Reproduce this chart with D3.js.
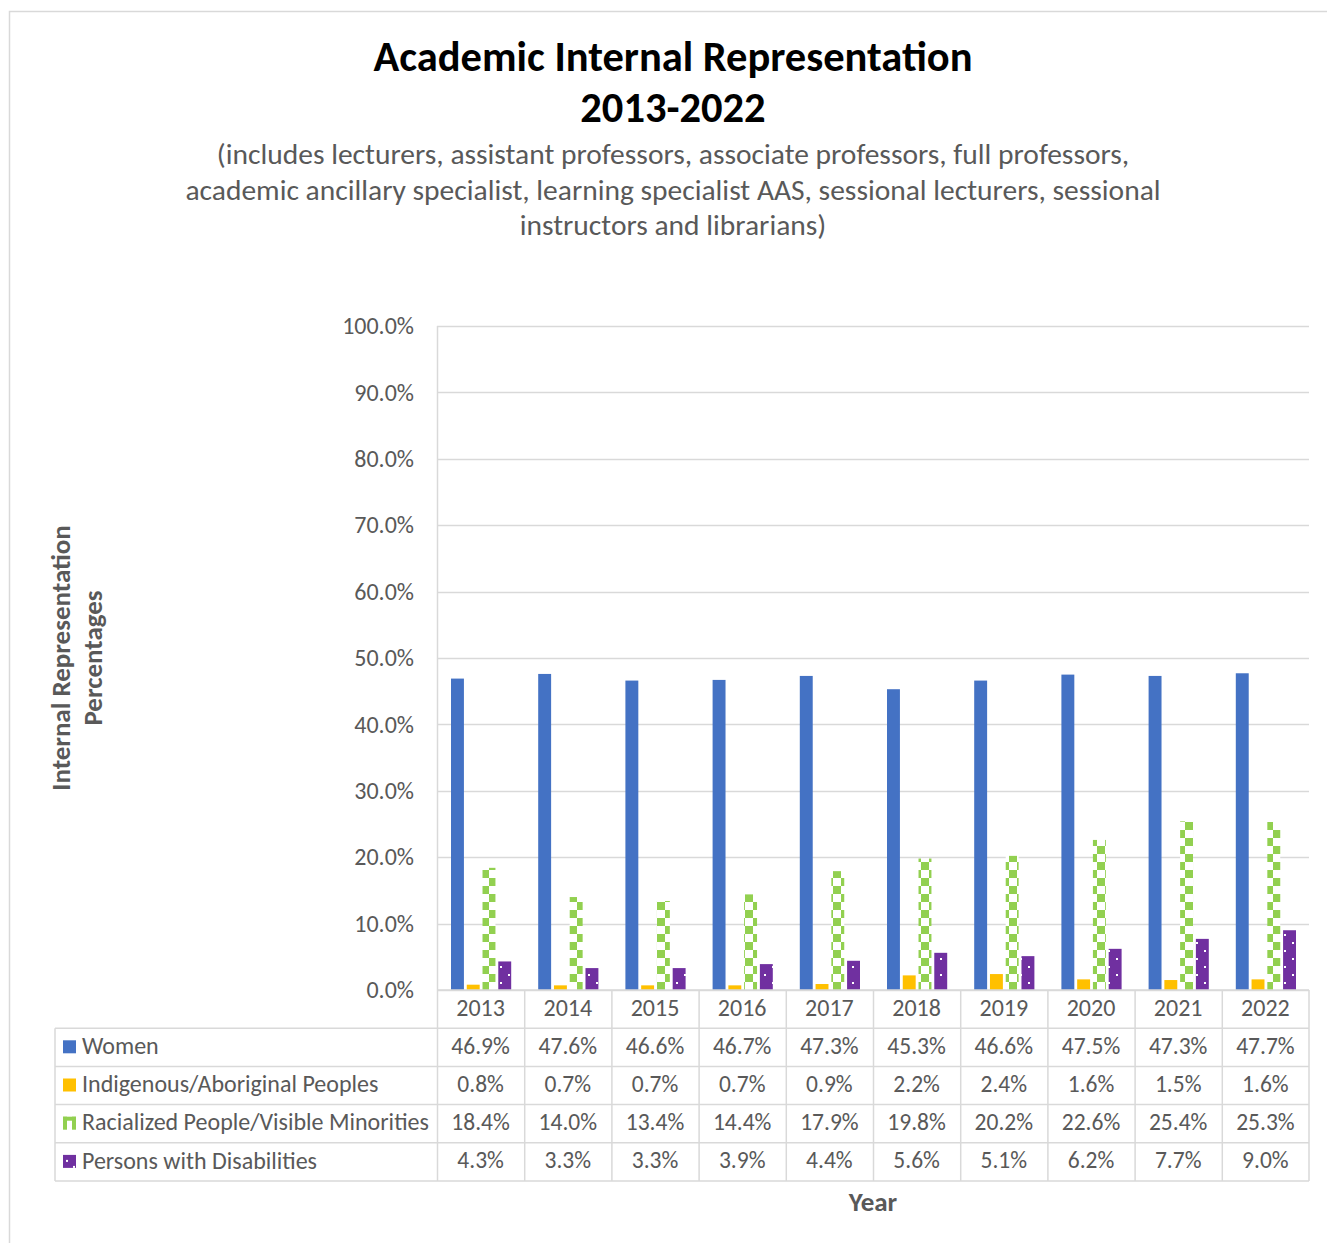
<!DOCTYPE html>
<html><head><meta charset="utf-8">
<script src="https://cdn.jsdelivr.net/npm/d3@7"></script>
<style>
html,body{margin:0;padding:0;background:#fff;}
svg{display:block;font-family:Carlito,Lato,"Open Sans",sans-serif;}
</style></head>
<body>
<svg id="chart" width="1327" height="1243"></svg>
<script>
const years = ["2013","2014","2015","2016","2017","2018","2019","2020","2021","2022"];
const seriesNames = ["Women","Indigenous/Aboriginal Peoples","Racialized People/Visible Minorities","Persons with Disabilities"];
const women = [46.9,47.6,46.6,46.7,47.3,45.3,46.6,47.5,47.3,47.7];
const indigenous = [0.8,0.7,0.7,0.7,0.9,2.2,2.4,1.6,1.5,1.6];
const racialized = [18.4,14.0,13.4,14.4,17.9,19.8,20.2,22.6,25.4,25.3];
const disabilities = [4.3,3.3,3.3,3.9,4.4,5.6,5.1,6.2,7.7,9.0];
const yTicks = [0,10,20,30,40,50,60,70,80,90,100];
const titleLines = ["Academic Internal Representation","2013-2022"];
const subtitleLines = ["(includes lecturers, assistant professors, associate professors, full professors,",
  "academic ancillary specialist, learning specialist AAS, sessional lecturers, sessional",
  "instructors and librarians)"];
const yTitleLines = ["Internal Representation","Percentages"];
const xTitle = "Year";

(function(){
const allSeries = [women, indigenous, racialized, disabilities];
const fills = ["#4472C4","#FFC000","url(#checker)","url(#dots)"];

const svg = d3.select("#chart");
const defs = svg.append("defs");
const pc = defs.append("pattern").attr("id","checker").attr("patternUnits","userSpaceOnUse")
  .attr("width",16).attr("height",16).attr("x",1).attr("y",6);
pc.append("rect").attr("width",16).attr("height",16).attr("fill","#fff");
pc.append("rect").attr("x",0).attr("y",0).attr("width",8).attr("height",8).attr("fill","#92D050");
pc.append("rect").attr("x",8).attr("y",8).attr("width",8).attr("height",8).attr("fill","#92D050");
const pd = defs.append("pattern").attr("id","dots").attr("patternUnits","userSpaceOnUse")
  .attr("width",16).attr("height",16).attr("x",1).attr("y",4);
pd.append("rect").attr("width",16).attr("height",16).attr("fill","#7030A0");
pd.append("rect").attr("x",3).attr("y",2).attr("width",2).attr("height",2).attr("fill","#fff");
pd.append("rect").attr("x",11).attr("y",10).attr("width",2).attr("height",2).attr("fill","#fff");

svg.append("path").attr("d","M9.5,1243 V11.5 H1327").attr("fill","none").attr("stroke","#d9d9d9").attr("stroke-width",1.5);

const pLeft = 437, pRight = 1309, pTop = 326, pBottom = 990;
const x = d3.scaleBand().domain(years).range([pLeft,pRight]).paddingInner(0).paddingOuter(0);
const y = d3.scaleLinear().domain([0,100]).range([pBottom,pTop]);
const x1 = d3.scaleBand().domain(d3.range(4)).range([14, x.bandwidth()-13]).paddingInner(0.18).paddingOuter(0);

svg.append("g").selectAll("line").data(yTicks).join("line")
  .attr("x1",pLeft).attr("x2",pRight)
  .attr("y1",d=>Math.round(y(d))+0.5).attr("y2",d=>Math.round(y(d))+0.5)
  .attr("stroke","#d9d9d9").attr("stroke-width",1.5);
svg.append("line").attr("x1",pLeft+0.5).attr("x2",pLeft+0.5).attr("y1",pTop).attr("y2",pBottom)
  .attr("stroke","#d9d9d9").attr("stroke-width",1.5);

const yAxis = d3.axisLeft(y).tickValues(yTicks).tickFormat(d=>d.toFixed(1)+"%").tickSize(0).tickPadding(23);
const ga = svg.append("g").attr("transform",`translate(${pLeft},0)`).call(yAxis);
ga.select(".domain").remove();
ga.selectAll("text").attr("font-size",24).attr("fill","#595959").attr("font-family","Carlito,Lato,sans-serif");

allSeries.forEach((vals,si)=>{
  svg.append("g").selectAll("rect").data(vals).join("rect")
    .attr("x",(d,i)=>x(years[i])+x1(si))
    .attr("width",x1.bandwidth())
    .attr("y",d=>y(d))
    .attr("height",d=>pBottom-y(d))
    .attr("fill",fills[si]);
});

const rowH = 38.2;
const tableLeft = 55;
const tg = svg.append("g");
const gridC = "#d9d9d9";
const rowsY = d3.range(6).map(i=>pBottom+i*rowH);
rowsY.forEach((ry,i)=>{
  tg.append("line").attr("x1", i===0? pLeft : tableLeft).attr("x2",pRight)
    .attr("y1",ry).attr("y2",ry).attr("stroke",gridC).attr("stroke-width",1.5);
});
tg.append("line").attr("x1",tableLeft).attr("x2",tableLeft).attr("y1",rowsY[1]).attr("y2",rowsY[5]).attr("stroke",gridC).attr("stroke-width",1.5);
years.forEach(yr=>{
  tg.append("line").attr("x1",x(yr)+0.5).attr("x2",x(yr)+0.5).attr("y1",pBottom).attr("y2",rowsY[5]).attr("stroke",gridC).attr("stroke-width",1.5);
});
tg.append("line").attr("x1",pRight).attr("x2",pRight).attr("y1",pBottom).attr("y2",rowsY[5]).attr("stroke",gridC).attr("stroke-width",1.5);
tg.selectAll("text.yr").data(years).join("text").attr("class","yr")
  .attr("x",d=>x(d)+x.bandwidth()/2).attr("y",pBottom+rowH/2)
  .attr("dy","0.3em").attr("text-anchor","middle").attr("font-size",24).attr("fill","#595959").text(d=>d);
allSeries.forEach((vals,si)=>{
  const ry = rowsY[si+1]+rowH/2;
  tg.append("g").selectAll("text").data(vals).join("text")
    .attr("x",(d,i)=>x(years[i])+x.bandwidth()/2).attr("y",ry).attr("dy","0.28em")
    .attr("text-anchor","middle").attr("font-size",23.5).attr("fill","#595959")
    .text(d=>d.toFixed(1)+"%");
  const ky = ry-7;
  if(si===2){
    const k = tg.append("g");
    k.append("rect").attr("x",63).attr("y",ky).attr("width",4).attr("height",13).attr("fill","#92D050");
    k.append("rect").attr("x",72).attr("y",ky).attr("width",4).attr("height",13).attr("fill","#92D050");
    k.append("rect").attr("x",63).attr("y",ky).attr("width",13).attr("height",4).attr("fill","#92D050");
  } else if(si===3){
    tg.append("rect").attr("x",63).attr("y",ky).attr("width",13).attr("height",13).attr("fill","#7030A0");
    tg.append("rect").attr("x",66).attr("y",ky+5).attr("width",2).attr("height",2).attr("fill","#fff");
    tg.append("rect").attr("x",73).attr("y",ky+11).attr("width",2).attr("height",2).attr("fill","#fff");
  } else {
    tg.append("rect").attr("x",63).attr("y",ky).attr("width",13).attr("height",13).attr("fill",fills[si]);
  }
  tg.append("text").attr("x",82).attr("y",ry).attr("dy","0.28em").attr("font-size",24).attr("fill","#595959").text(seriesNames[si]);
});

const cx = 673;
svg.append("g").selectAll("text").data(titleLines).join("text")
  .attr("x",cx).attr("y",(d,i)=>58+i*51).attr("dy","0.3em").attr("text-anchor","middle")
  .attr("font-size",42.5).attr("font-weight","bold").attr("fill","#000").text(d=>d);
svg.append("g").selectAll("text").data(subtitleLines).join("text")
  .attr("x",cx).attr("y",(d,i)=>155+i*35.5).attr("dy","0.32em").attr("text-anchor","middle")
  .attr("font-size",29.5).attr("fill","#595959").text(d=>d);
svg.append("g").selectAll("text").data(yTitleLines).join("text")
  .attr("transform",(d,i)=>`translate(${61+i*32},658) rotate(-90)`)
  .attr("dy","0.35em").attr("text-anchor","middle").attr("font-size",27).attr("font-weight","bold")
  .attr("fill","#595959").text(d=>d);
svg.append("text").attr("x",873).attr("y",1202).attr("dy","0.32em").attr("text-anchor","middle")
  .attr("font-size",27).attr("font-weight","bold").attr("fill","#595959").text(xTitle);
})();
</script>
</body></html>
